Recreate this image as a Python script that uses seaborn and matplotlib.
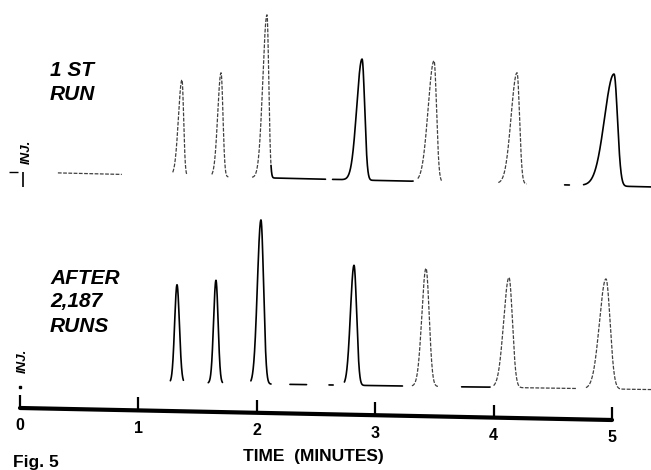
import numpy as np
import pandas as pd
import matplotlib
matplotlib.use("Agg")
import matplotlib.pyplot as plt
import seaborn as sns

# ---------------- data ----------------
# time axis (minutes)
tick_minutes = [0, 1, 2, 3, 4, 5]
tick_labels = ["0", "1", "2", "3", "4", "5"]

# "1 ST RUN" chromatogram: retention time (min), peak height (chart units),
# front / tail widths (min)
run1_rt = [1.368, 1.698, 2.086, 2.889, 3.497, 4.198, 5.017]
run1_height = [96, 104, 163, 121, 121, 111, 112]
run1_sig_front = [0.030, 0.028, 0.035, 0.045, 0.050, 0.050, 0.080]
run1_sig_tail = [0.014, 0.016, 0.015, 0.022, 0.021, 0.021, 0.029]
run1_base_level = 298.0
run1_drift = -2.8
run1_inj_time = 0.025
# parts of the pen trace that are visible on the scan (min)
run1_vis_start = [0.32, 1.29, 1.62, 1.96, 2.12, 2.64, 3.36, 4.04, 4.60, 4.76]
run1_vis_end = [0.86, 1.41, 1.76, 2.12, 2.58, 3.32, 3.56, 4.28, 4.64, 5.33]
run1_faint = [True, True, True, True, False, False, True, True, False, False]

# "AFTER 2,187 RUNS" chromatogram
run2_rt = [1.326, 1.655, 2.035, 2.821, 3.429, 4.130, 4.949]
run2_height = [98, 103, 164, 120, 118, 110, 110]
run2_sig_front = [0.020, 0.020, 0.030, 0.030, 0.035, 0.045, 0.055]
run2_sig_tail = [0.020, 0.018, 0.022, 0.022, 0.027, 0.029, 0.035]
run2_base_level = 89.5
run2_drift = -1.7
run2_vis_start = [1.27, 1.59, 1.95, 2.28, 2.61, 2.74, 3.31, 3.73, 4.00, 4.78]
run2_vis_end = [1.38, 1.71, 2.12, 2.42, 2.645, 3.23, 3.54, 3.97, 4.70, 5.33]
run2_faint = [False, False, False, False, False, False, True, False, True, True]

# ---------------- layout ----------------
W, H = 651, 470
PX0, PXM = 20.0, 118.4          # pixel of t=0, pixels per minute
axis_y0, axis_tilt, tick_len = 62.0, -2.4, 13.0

sns.set_theme(style="white")
plt.rcParams["font.family"] = ["Liberation Sans", "DejaVu Sans"]

fig = plt.figure(figsize=(W / 100, H / 100), dpi=100)
ax = fig.add_axes([0, 0, 1, 1])
ax.set_xlim(-PX0 / PXM, (W - PX0) / PXM)
ax.set_ylim(0, H)
ax.axis("off")


def trace(t, rts, hs, sf, st, level, drift):
    y = level + drift * t
    for rt, h, a, b in zip(rts, hs, sf, st):
        s = np.where(t < rt, a, b)
        y = y + h * np.exp(-0.5 * ((t - rt) / s) ** 2)
    return y


def draw_run(rts, hs, sf, st, level, drift, starts, ends, faint):
    rows = []
    for i, (a, b) in enumerate(zip(starts, ends)):
        t = np.linspace(a, b, max(int((b - a) * 1500), 20))
        y = trace(t, rts, hs, sf, st, level, drift)
        rows.append(pd.DataFrame({"time": t, "signal": y, "seg": i}))
    df = pd.concat(rows, ignore_index=True)
    for i, f in enumerate(faint):
        d = df[df.seg == i]
        sns.lineplot(data=d, x="time", y="signal", ax=ax, sort=False,
                     estimator=None, color="0.25" if f else "black",
                     lw=0.9 if f else 1.2,
                     linestyle=(0, (3, 1.2)) if f else "-")


draw_run(run1_rt, run1_height, run1_sig_front, run1_sig_tail,
         run1_base_level, run1_drift, run1_vis_start, run1_vis_end, run1_faint)
draw_run(run2_rt, run2_height, run2_sig_front, run2_sig_tail,
         run2_base_level, run2_drift, run2_vis_start, run2_vis_end, run2_faint)

# injection marks
b1 = run1_base_level + run1_drift * run1_inj_time
ax.vlines(run1_inj_time, b1 - 15, b1, color="black", lw=1.2)
ax.hlines(b1, -0.09, -0.02, color="black", lw=1.0)
ax.plot([0.0], [run2_base_level - 6], marker="s", ms=1.5, color="black")

# hand-drawn, slightly tilted time axis
tt = np.array(tick_minutes, dtype=float)
ay = axis_y0 + axis_tilt * tt
sns.lineplot(x=[tt[0], tt[-1]], y=[ay[0], ay[-1]], ax=ax, color="black",
             lw=3.0, estimator=None, sort=False)
ax.vlines(tt, ay - 1, ay + tick_len, color="black", lw=1.6)
for t, y, lab in zip(tt, ay, tick_labels):
    ax.text(t, y - 18, lab, ha="center", va="center", fontsize=11.5,
            fontweight="bold", color="black")

# texts
def ftext(px, py, s, **kw):
    fig.text(px / W, 1 - py / H, s, **kw)

lab_kw = dict(fontsize=15, fontweight="bold", fontstyle="italic",
              ha="left", va="center", color="black")
ftext(50, 71, "1 ST", **lab_kw)
ftext(50, 95, "RUN", **lab_kw)
ftext(50, 278, "AFTER", **lab_kw)
ftext(50, 302, "2,187", **lab_kw)
ftext(50, 327, "RUNS", **lab_kw)
inj_kw = dict(fontsize=9.5, fontweight="bold", fontstyle="italic",
              rotation=90, ha="center", va="center", color="black")
ftext(27, 152, "INJ.", **inj_kw)
ftext(23, 361, "INJ.", **inj_kw)
ftext(313, 457, "TIME  (MINUTES)", fontsize=12.5, fontweight="bold",
      ha="center", va="center", color="black")
ftext(13, 463, "Fig. 5", fontsize=12.5, fontweight="bold",
      ha="left", va="center", color="black")

fig.savefig("out.png", dpi=100, facecolor="white")
